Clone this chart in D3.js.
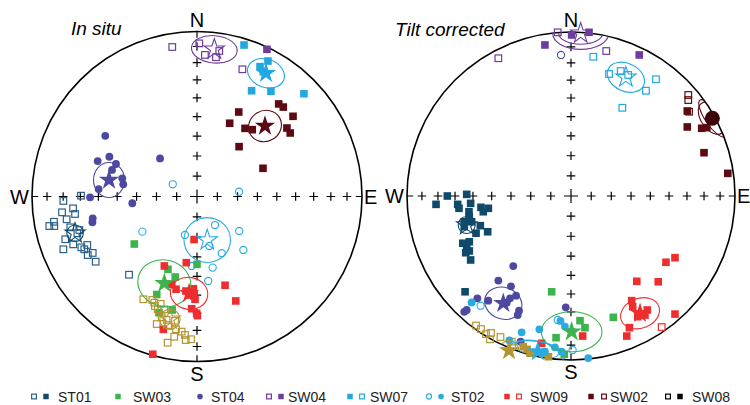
<!DOCTYPE html>
<html><head><meta charset="utf-8">
<script src="https://cdn.jsdelivr.net/npm/d3@7"></script>
<style>body{margin:0;background:#fff}svg{display:block}</style>
</head><body><svg id="c" width="750" height="405"></svg>
<script>
// ---- DATA (equal-area projected coordinates, percent of net radius: [east, north, filled(1)/open(0)]) ----
const incTicks = [10,20,30,40,50,60,70,80];
const netTitles = ["In situ", "Tilt corrected"];
const compass = ["N","E","S","W"];
const legendLabels = ["ST01","SW03","ST04","SW04","SW07","ST02","SW09","SW02","SW08"];

// In situ
const L_ST01 = [[-81.0,-2.7,0],[-70.3,0.5,0],[-75.1,-7.2,0],[-81.8,-9.6,0],[-73.9,-10.6,0],[-86.7,-15.3,0],[-79.0,-13.8,0],[-89.5,-17.9,0],[-86.5,-17.9,0],[-76.8,-18.7,0],[-71.3,-20.3,0],[-72.5,-22.3,0],[-79.8,-25.9,0],[-75.0,-29.0,0],[-70.1,-30.8,0],[-66.5,-29.4,0],[-68.3,-32.0,0],[-81.0,-32.0,0],[-63.2,-34.2,0],[-66.2,-35.5,0],[-61.4,-39.5,0],[-41.2,-47.4,0]];
const L_ST04 = [[-55.6,36.8,1],[-60.2,21.5,1],[-53.1,24.1,1],[-49.1,19.7,1],[-51.5,16.1,1],[-45.3,11.0,1],[-44.7,7.4,1],[-59.6,4.5,1],[-22.4,23.1,1],[-64.8,-0.5,1],[-39.2,-4.1,1],[-63.2,-13.2,1],[-63.4,-15.6,1]];
const L_SW04 = [[-15.0,90.6,0],[1.4,92.8,0],[4.8,85.8,0],[11.5,84.4,0],[13.5,88.2,0],[27.5,77.1,0],[42.4,89.2,1]];
const L_SW07 = [[28.5,91.8,1],[43.0,82.1,1],[38.2,78.7,1],[40.2,75.6,1],[33.1,64.1,1],[44.8,63.8,1],[64.8,62.3,1]];
const L_SW02 = [[49.5,56.1,1],[52.3,54.2,1],[25.3,51.2,1],[58.2,48.6,1],[19.8,44.4,1],[29.1,41.3,1],[33.5,40.5,1],[54.5,41.5,1],[56.5,38.5,1],[25.5,30.2,1],[40.0,17.1,1]];
const L_ST02 = [[-14.7,7.4,0],[25.5,2.9,0],[10.9,-17.3,0],[25.6,-20.9,0],[7.5,-30.0,0],[15.0,-34.4,0],[28.1,-32.4,0],[9.5,-43.1,0],[6.8,-51.2,0],[-3.2,-42.1,0],[-33.1,-21.3,0],[-7.3,-23.3,0]];
const L_SW03 = [[-38.0,-28.8,1],[-17.6,-44.1,1],[-13.2,-48.8,1],[-24.4,-59.4,1],[-23.0,-70.4,1],[-15.0,-68.8,1],[0.0,-41.1,1]];
const L_GOLD = [[-32.5,-62.3,0],[-27.1,-62.7,0],[-25.9,-64.4,0],[-25.5,-66.4,0],[-22.0,-65.1,0],[-23.8,-68.4,0],[-19.8,-68.4,0],[-21.4,-73.2,0],[-24.4,-77.3,0],[-18.4,-74.8,0],[-13.3,-75.3,0],[-17.4,-77.9,0],[-12.7,-80.5,0],[-9.3,-81.9,0],[-13.8,-85.0,0],[-7.3,-83.9,0],[-3.6,-86.5,0],[-6.8,-87.0,0],[-17.8,-88.6,0]];
const L_SW09 = [[-1.8,-26.1,1],[-19.8,-42.1,1],[-6.5,-40.1,1],[-15.3,-53.2,1],[-12.7,-56.2,1],[-6.7,-57.3,1],[-2.2,-55.9,1],[-3.6,-59.7,1],[-1.2,-62.3,1],[-1.8,-60.3,1],[-3.2,-68.0,1],[-0.2,-70.8,1],[0.2,-72.2,1],[-20.4,-80.5,1],[-26.8,-95.6,1],[17.0,-53.8,1],[23.5,-63.3,1]];
// means: [east, north, filled, a95 rx, a95 ry, tilt]
const L_means = {ST01:[-73.9,-22.3,0,5.0,5.0,0], ST04:[-53.3,10.0,1,9.4,10.6,0], SW04:[10.5,89.2,0,13.9,8.3,5], SW07:[41.8,74.7,1,11.5,8.5,20], SW02:[41.2,42.7,1,10.2,9.3,-30], ST02:[6.2,-26.4,0,14.1,13.6,0], SW03:[-19.8,-52.6,1,16.2,14.1,15], GOLD:[-16.4,-74.4,0,6.1,6.1,0], SW09:[-4.8,-58.7,1,11.4,9.7,10]};

// Tilt corrected
const R_ST01 = [[-75.4,0.0,1],[-63.6,1.0,1],[-82.3,-5.1,1],[-69.1,-5.1,1],[-61.2,-4.5,1],[-68.3,-7.5,1],[-54.9,-6.9,1],[-50.4,-7.5,1],[-53.5,-9.6,1],[-62.2,-9.6,1],[-62.0,-12.6,1],[-65.1,-15.7,1],[-60.6,-15.7,1],[-65.1,-18.7,1],[-55.3,-18.1,1],[-57.9,-22.7,1],[-50.8,-21.8,1],[-66.0,-28.8,1],[-62.0,-27.9,1],[-63.6,-31.3,1],[-62.0,-33.5,1],[-64.2,-34.6,1],[-61.2,-39.0,1],[-64.6,-58.4,1]];
const R_ST04 = [[-35.2,-42.7,1],[-44.3,-51.6,1],[-36.6,-55.1,1],[-50.4,-63.8,1],[-57.1,-62.4,1],[-37.2,-62.4,1],[-33.5,-60.8,1],[-39.2,-65.1,1],[-31.7,-69.9,1],[-32.5,-72.6,1],[-63.6,-69.5,1],[-65.1,-70.6,1],[-30.7,-88.8,1],[-3.2,-67.9,1],[-6.1,86.0,0]];
const R_SW04 = [[-44.3,84.0,0],[-8.1,99.8,0],[21.5,88.4,0],[-15.9,92.1,1],[0.4,98.2,1],[11.0,99.8,1],[41.6,86.0,1]];
const R_SW07 = [[13.6,84.9,0],[23.2,74.4,0],[30.3,76.2,0],[34.9,73.8,0],[51.8,71.2,0],[45.7,64.2,0],[31.3,53.8,0]];
const R_SW02 = [[71.5,61.6,0],[71.5,58.5,0],[72.0,51.4,0],[70.9,51.8,1],[70.9,42.1,1],[79.7,41.3,1],[82.8,41.7,1],[81.1,26.4,1],[95.6,13.8,1]];
const R_GOLD = [[-57.9,-79.0,0],[-54.9,-81.1,0],[-51.8,-84.2,0],[-48.8,-83.5,0],[-43.0,-86.0,0],[-49.4,-87.4,0],[-36.2,-88.8,0],[-29.1,-91.9,1],[-26.8,-93.5,1],[-25.0,-95.9,1],[-16.9,-95.9,1],[-13.8,-98.0,1]];
const R_SW03 = [[-11.8,-58.4,1],[5.5,-76.0,1],[8.5,-80.3,1],[25.8,-74.0,1],[-9.1,-86.4,1],[-4.1,-96.5,1]];
const R_ST02 = [[-60.6,-64.9,1],[-37.6,-88.0,1],[-30.1,-83.1,1],[-19.3,-81.3,1],[-15.9,-94.9,1],[-9.8,-92.3,1],[-5.7,-94.9,1],[-3.7,-79.6,1],[10.5,-98.8,1],[-6.4,-76.2,1],[-55.1,-66.9,0],[-8.1,-75.6,0],[1.0,-93.9,0]];
const R_SW09 = [[63.4,-37.6,1],[57.9,-40.4,1],[40.1,-52.0,1],[53.2,-52.3,1],[37.0,-63.8,1],[37.6,-67.5,1],[46.5,-69.5,1],[45.1,-72.6,1],[40.7,-73.6,1],[63.4,-72.0,1],[35.6,-80.3,1],[34.0,-85.4,1],[7.1,-85.4,1],[-17.9,-89.8,1],[55.3,-79.9,0]];
const R_means = {ST01:[-63.6,-17.7,0,5.2,5.2,0], ST04:[-41.3,-65.4,1,11.6,9.6,20], SW04:[5.9,99.2,0,17.1,9.8,0], SW07:[33.5,72.4,0,11.9,8.5,25], SW02:[86.2,47.4,1,13.4,4.3,56], GOLD:[-37.8,-94.2,1,6.0,6.0,0], SW03:[0.4,-82.8,1,18.5,12.2,0], ST02:[-20.3,-94.9,1,17.1,6.1,10], SW09:[42.1,-71.5,1,12.2,9.1,-20]};
const R_extraEllipses = [["SW04",5.9,99.2,13.4,6.7,0],["ST02",-20.7,-93.4,13.4,4.9,12],["SW02",85.8,47.4,11.0,6.5,56]];

// ---- STYLE ----
const colors = {ST01:"#0f4a6b", SW03:"#3cb44b", ST04:"#4d49a1", SW04:"#6e3c9d", SW07:"#20a8e0", ST02:"#29abe2", SW09:"#ee2e2e", SW02:"#5b0a12", GOLD:"#b5952f", SW08:"#000000"};
const openColors = {ST01:"#2b6189"};
const shapes = {ST04:"circle", ST02:"circle"};
const font = "Arial, 'Liberation Sans', Helvetica, sans-serif";
const svg = d3.select("#c");

function eqArea(inc){ return Math.SQRT2*Math.sin((90-inc)/2*Math.PI/180)*100; }

function drawMarker(g, site, px, py, filled, scale){
  const s = scale || 1;
  const col = filled ? colors[site] : (openColors[site] || colors[site]);
  if (shapes[site] === "circle") {
    const c = g.append("circle").attr("cx",px).attr("cy",py);
    if (filled) c.attr("r",3.9*s).attr("fill",col);
    else c.attr("r",3.6*s).attr("fill","none").attr("stroke",col).attr("stroke-width",1.1);
  } else {
    const side = filled ? 7.6*s : 6.6*s;
    const r = g.append("rect").attr("x",px-side/2).attr("y",py-side/2).attr("width",side).attr("height",side);
    if (filled) r.attr("fill",col);
    else r.attr("fill","none").attr("stroke",col).attr("stroke-width",1.2);
  }
}

function drawNet(cfg){
  const g = svg.append("g");
  const x = d3.scaleLinear().domain([-100,100]).range([cfg.cx-cfg.R, cfg.cx+cfg.R]);
  const y = d3.scaleLinear().domain([-100,100]).range([cfg.cy+cfg.R, cfg.cy-cfg.R]);
  const k = cfg.R/100;
  const clipId = "clip"+cfg.id;
  svg.append("clipPath").attr("id",clipId).append("circle").attr("cx",cfg.cx).attr("cy",cfg.cy).attr("r",cfg.R);

  // primitive
  g.append("circle").attr("cx",cfg.cx).attr("cy",cfg.cy).attr("r",cfg.R)
    .attr("fill","none").attr("stroke","#000").attr("stroke-width",1.6);
  // crosses
  const dirs = [[0,1],[1,0],[0,-1],[-1,0]];
  let p = "";
  dirs.forEach(([dx,dy]) => {
    incTicks.forEach(inc => {
      const r = eqArea(inc);
      const px = x(dx*r), py = y(dy*r);
      p += `M${px-4.3},${py}h8.6M${px},${py-4.3}v8.6`;
    });
    const x0 = x(dx*100), y0 = y(dy*100), x1 = x(dx*96.2), y1 = y(dy*96.2);
    p += `M${x0},${y0}L${x1},${y1}`;
  });
  const cx0 = x(0), cy0 = y(0);
  p += `M${cx0-7},${cy0}h14M${cx0},${cy0-7}v14`;
  g.append("path").attr("d",p).attr("stroke","#000").attr("stroke-width",1.2).attr("fill","none");

  // compass letters
  const lab = g.append("g").attr("font-family",font).attr("font-size",20).attr("fill","#000");
  lab.append("text").attr("x",x(0)).attr("y",y(100)-5).attr("text-anchor","middle").text(compass[0]);
  lab.append("text").attr("x",x(100)+2).attr("y",y(0)+7).attr("text-anchor","start").text(compass[1]);
  lab.append("text").attr("x",x(0)).attr("y",y(-100)+19).attr("text-anchor","middle").text(compass[2]);
  lab.append("text").attr("x",x(-100)-3).attr("y",y(0)+7).attr("text-anchor","end").text(compass[3]);
  // title
  g.append("text").attr("x",cfg.tx).attr("y",cfg.ty).attr("font-family",font).attr("font-size",19)
    .attr("font-style","italic").text(cfg.title);

  // points
  const pg = g.append("g");
  cfg.groups.forEach(([site, pts]) => {
    pts.forEach(d => drawMarker(pg, site, x(d[0]), y(d[1]), d[2] === 1));
  });
  // confidence ellipses (clipped to net)
  const eg = g.append("g").attr("clip-path",`url(#${clipId})`);
  const ellipse = (site, e, n, rx, ry, rot) => {
    eg.append("ellipse").attr("cx",x(e)).attr("cy",y(n)).attr("rx",rx*k).attr("ry",ry*k)
      .attr("transform",`rotate(${rot},${x(e)},${y(n)})`)
      .attr("fill","none").attr("stroke",colors[site]).attr("stroke-width",1.1);
  };
  Object.entries(cfg.means).forEach(([site, m]) => ellipse(site, m[0], m[1], m[3], m[4], m[5]));
  (cfg.extras||[]).forEach(e => ellipse(...e));
  // mean symbols
  const star = d3.symbol().type(d3.symbolStar).size(128);
  Object.entries(cfg.means).forEach(([site, m]) => {
    const col = colors[site];
    if (cfg.circleMeans && cfg.circleMeans.includes(site)) {
      g.append("circle").attr("cx",x(m[0])).attr("cy",y(m[1])).attr("r",7.5).attr("fill","#3d050a");
      return;
    }
    const s = g.append("path").attr("d",star()).attr("transform",`translate(${x(m[0])},${y(m[1])})`);
    if (m[2] === 1) s.attr("fill",col);
    else s.attr("fill","none").attr("stroke",col).attr("stroke-width",1.1);
  });
}

drawNet({id:"L", cx:197, cy:196.5, R:165, tx:71, ty:35, title:netTitles[0],
  groups:[["ST01",L_ST01],["ST04",L_ST04],["SW04",L_SW04],["SW07",L_SW07],["SW02",L_SW02],["ST02",L_ST02],["SW03",L_SW03],["GOLD",L_GOLD],["SW09",L_SW09]],
  means:L_means});
drawNet({id:"R", cx:571, cy:196, R:164, tx:395, ty:36, title:netTitles[1],
  groups:[["ST01",R_ST01],["ST04",R_ST04],["SW04",R_SW04],["SW07",R_SW07],["SW02",R_SW02],["GOLD",R_GOLD],["SW03",R_SW03],["ST02",R_ST02],["SW09",R_SW09]],
  means:R_means, extras:R_extraEllipses, circleMeans:["SW02"]});

// ---- LEGEND ----
const legendMarkers = [
  [[34,0],[46,1]], [[118,1]], [[200,1]], [[269,0],[281,1]], [[350,1],[362,0]],
  [[429,0],[441,1]], [[507,1],[519,0]], [[591,1],[604,0]], [[668,0],[680,1]]
];
const legendTextX = [58,133,211,288,370,451,530,610,692];
const lg = svg.append("g");
legendLabels.forEach((lab, i) => {
  legendMarkers[i].forEach(([mx, f]) => drawMarker(lg, lab, mx, 396.5, f === 1, 0.72));
  lg.append("text").attr("x",legendTextX[i]).attr("y",401.5).attr("font-family",font)
    .attr("font-size",14).attr("fill","#222").text(lab);
});
</script></body></html>
